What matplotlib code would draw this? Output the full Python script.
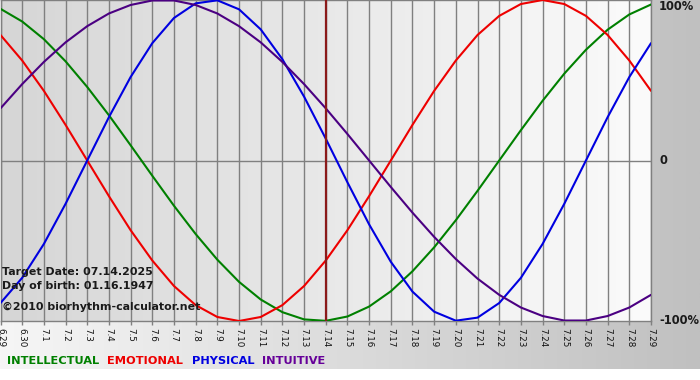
import matplotlib
matplotlib.use('Agg')
import matplotlib.pyplot as plt
import numpy as np
from matplotlib.colors import LinearSegmentedColormap

# ---- data ----
day_labels = ['6.29', '6.30', '7.1', '7.2', '7.3', '7.4', '7.5', '7.6', '7.7', '7.8',
              '7.9', '7.10', '7.11', '7.12', '7.13', '7.14', '7.15', '7.16', '7.17',
              '7.18', '7.19', '7.20', '7.21', '7.22', '7.23', '7.24', '7.25', '7.26',
              '7.27', '7.28', '7.29']

intellectual = [0.945, 0.866, 0.756, 0.618, 0.458, 0.282, 0.095, -0.095, -0.282, -0.458,
                -0.618, -0.756, -0.866, -0.945, -0.990, -0.999, -0.972, -0.910, -0.815,
                -0.690, -0.541, -0.372, -0.189, 0.000, 0.189, 0.372, 0.541, 0.690, 0.815,
                0.910, 0.972]
emotional = [0.782, 0.623, 0.434, 0.222, 0.000, -0.222, -0.434, -0.623, -0.782, -0.901,
             -0.975, -1.000, -0.975, -0.901, -0.782, -0.623, -0.434, -0.222, 0.000, 0.222,
             0.434, 0.623, 0.782, 0.901, 0.975, 1.000, 0.975, 0.901, 0.782, 0.623, 0.434]
physical = [-0.888, -0.731, -0.520, -0.270, 0.000, 0.270, 0.520, 0.731, 0.888, 0.979,
            0.998, 0.942, 0.817, 0.631, 0.398, 0.136, -0.136, -0.398, -0.631, -0.817,
            -0.942, -0.998, -0.979, -0.888, -0.731, -0.520, -0.270, 0.000, 0.270, 0.520,
            0.731]
intuitive = [0.325, 0.476, 0.614, 0.736, 0.837, 0.916, 0.969, 0.997, 0.997, 0.969,
             0.916, 0.837, 0.736, 0.614, 0.476, 0.325, 0.165, 0.000, -0.165, -0.325,
             -0.476, -0.614, -0.736, -0.837, -0.916, -0.969, -0.997, -0.997, -0.969,
             -0.916, -0.837]

target_index = 15
series_names = ['INTELLECTUAL', 'EMOTIONAL', 'PHYSICAL', 'INTUITIVE']
info_lines = ['Target Date: 07.14.2025', 'Day of birth: 01.16.1947',
              '\u00a92010 biorhythm-calculator.net']
y_labels = ['100%', '0', '-100%']

# ---- figure ----
W, H = 700, 380
fig = plt.figure(figsize=(W / 100, H / 100), dpi=100, facecolor='white')

def fx(px):
    return px / W

def fy(py):
    return 1 - py / H

# background gradient (outside plot)
bg = fig.add_axes([0, 0, 1, 1], zorder=0)
bg.set_axis_off()
bg_cmap = LinearSegmentedColormap.from_list('bg', ['#f6f6f6', '#c0c0c0'])
bg.imshow(np.linspace(0, 1, 256).reshape(1, -1), extent=[0, W, 369, 0],
          aspect='auto', cmap=bg_cmap)
bg.set_xlim(0, W)
bg.set_ylim(H, 0)

# main plot axes
ax = fig.add_axes([fx(0.5), fy(321), fx(650.5), 321 / H], zorder=1)
pa_cmap = LinearSegmentedColormap.from_list('pa', ['#d6d6d6', '#fbfbfb'])
n = len(day_labels)
x = np.arange(n)
ax.imshow(np.linspace(0, 1, 256).reshape(1, -1), extent=[0, n - 1, -1, 1],
          aspect='auto', cmap=pa_cmap, zorder=0)

ax.set_xlim(0, n - 1)
ax.set_ylim(-1, 1)
ax.set_xticks(x)
ax.set_xticklabels(day_labels, rotation=-90, fontsize=6.3, color='#111111')
ax.set_yticks([])
ax.grid(axis='x', color='#808080', linewidth=1, zorder=1)
ax.axhline(0, color='#808080', linewidth=1, zorder=1)
ax.tick_params(axis='x', direction='out', length=3, width=1, color='#808080', pad=2)
for s in ax.spines.values():
    s.set_color('#808080')
    s.set_linewidth(1)

line_colors = ['#008000', '#ee0000', '#0000e0', '#4b0082']
for vals, c in zip([intellectual, emotional, physical, intuitive], line_colors):
    ax.plot(x, vals, color=c, linewidth=1.5, zorder=3, solid_joinstyle='round',
            solid_capstyle='round')

ax.axvline(target_index, color='#8b1a1a', linewidth=1.6, zorder=4)

# info texts
info_y = [272, 286, 307]
for t, yy in zip(info_lines, info_y):
    fig.text(fx(2.5), fy(yy), t, fontsize=7.9, fontweight='bold', color='#1a1a1a',
             va='center', ha='left', zorder=5)

# right-hand labels
for t, yy in zip(y_labels, [7, 161, 321]):
    fig.text(fx(659), fy(yy), t, fontsize=8.3, fontweight='bold', color='#1a1a1a',
             va='center', ha='left', zorder=5)

# legend
legend_colors = ['#008000', '#ee0000', '#0000e0', '#660099']
legend_x = [7, 107, 192, 262]
for name, c, lx in zip(series_names, legend_colors, legend_x):
    fig.text(fx(lx), fy(361.5), name, fontsize=8.2, fontweight='bold', color=c,
             va='center', ha='left', zorder=5)

fig.savefig('out.png', dpi=100, facecolor='white')
